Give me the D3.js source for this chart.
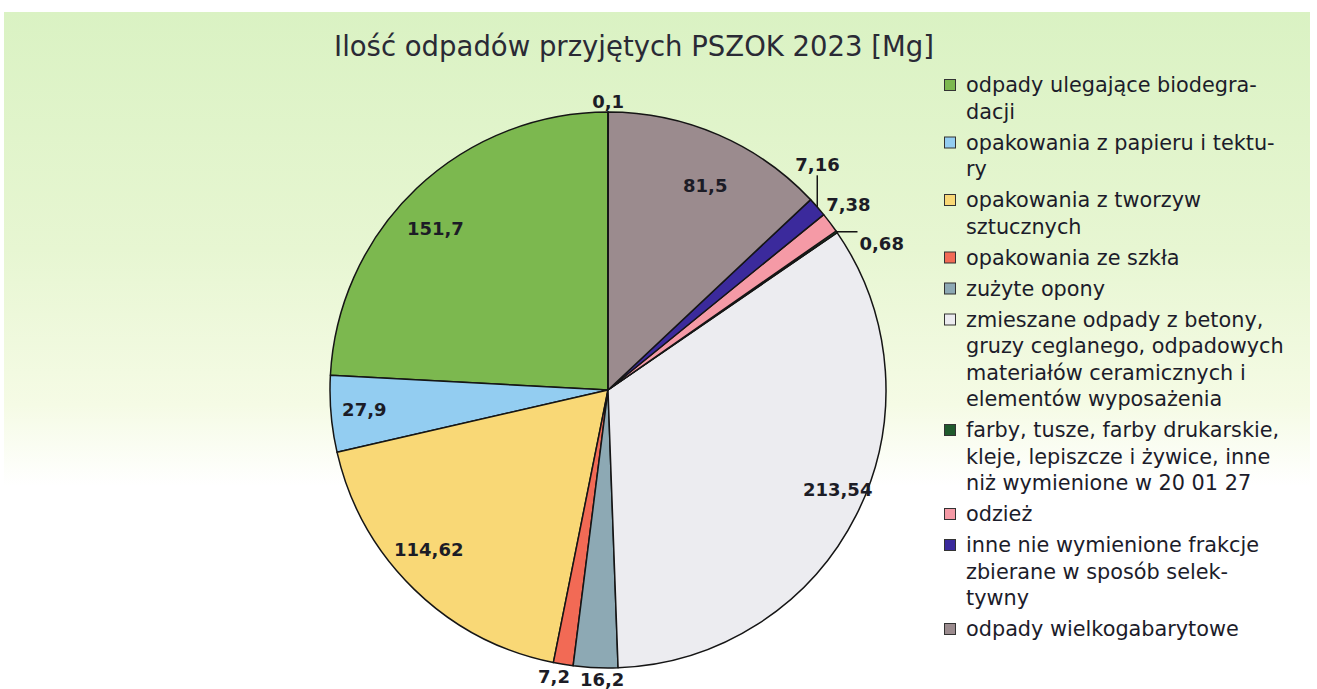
<!DOCTYPE html>
<html>
<head>
<meta charset="utf-8">
<script src="https://cdn.jsdelivr.net/npm/d3@7"></script>
<style>
  body { margin: 0; background: #fff; }
  svg text { font-family: "DejaVu Sans", sans-serif; }
</style>
</head>
<body>
<div id="chart"></div>
<script>
// Data (order as in the legend; pie runs counter-clockwise from 12 o'clock)
const categories = [
    "odpady ulegające biodegradacji",
    "opakowania z papieru i tektury",
    "opakowania z tworzyw sztucznych",
    "opakowania ze szkła",
    "zużyte opony",
    "zmieszane odpady z betony, gruzy ceglanego, odpadowych materiałów ceramicznych i elementów wyposażenia",
    "farby, tusze, farby drukarskie, kleje, lepiszcze i żywice, inne niż wymienione w 20 01 27",
    "odzież",
    "inne nie wymienione frakcje zbierane w sposób selektywny",
    "odpady wielkogabarytowe",
    ""
];
const values = [151.7, 27.9, 114.62, 7.2, 16.2, 213.54, 0.68, 7.38, 7.16, 81.5, 0.1];
const colors = ["#7cb84f", "#93cdf1", "#f9d876", "#f26a55", "#8da9b4", "#ececf0",
                "#1f5a2c", "#f59aa6", "#3b2a9c", "#9b8b8e", "#6b6b6b"];
// legend text as broken in the original
const legendLines = [
    ["odpady ulegające biodegra-", "dacji"],
    ["opakowania z papieru i tektu-", "ry"],
    ["opakowania z tworzyw", "sztucznych"],
    ["opakowania ze szkła"],
    ["zużyte opony"],
    ["zmieszane odpady z betony,", "gruzy ceglanego, odpadowych", "materiałów ceramicznych i", "elementów wyposażenia"],
    ["farby, tusze, farby drukarskie,", "kleje, lepiszcze i żywice, inne", "niż wymienione w 20 01 27"],
    ["odzież"],
    ["inne nie wymienione frakcje", "zbierane w sposób selek-", "tywny"],
    ["odpady wielkogabarytowe"]
];
const title = "Ilość odpadów przyjętych PSZOK 2023 [Mg]";

const width = 1317;
const height = 689;
const cx = 608, cy = 390, radius = 278;

const data = values.map((v, i) => ({ name: categories[i], value: v, color: colors[i] }));
const total = d3.sum(values);

const svg = d3.create("svg")
    .attr("width", width)
    .attr("height", height);
document.getElementById("chart").append(svg.node());

// Background panel with green fade
const grad = svg.append("defs").append("linearGradient")
    .attr("id", "bg").attr("x1", 0).attr("y1", 0).attr("x2", 0).attr("y2", 1);
grad.append("stop").attr("offset", "0%").attr("stop-color", "#daf2c3");
grad.append("stop").attr("offset", "35%").attr("stop-color", "#e7f6d2");
grad.append("stop").attr("offset", "58%").attr("stop-color", "#f5fbe5");
grad.append("stop").attr("offset", "70%").attr("stop-color", "#ffffff");
svg.append("rect")
    .attr("x", 4).attr("y", 12)
    .attr("width", 1306).attr("height", height - 12)
    .attr("fill", "url(#bg)");

// Title
svg.append("text")
    .attr("x", 634)
    .attr("y", 46)
    .attr("text-anchor", "middle")
    .attr("dominant-baseline", "central")
    .attr("font-size", 27.5)
    .attr("fill", "#2a2a35")
    .text(title);

// Pie
const pie = d3.pie()
    .sort(null)
    .value(d => d.value)
    .startAngle(0)
    .endAngle(-2 * Math.PI);
const arc = d3.arc().innerRadius(0).outerRadius(radius);
const arcs = pie(data);

const g = svg.append("g").attr("transform", `translate(${cx},${cy})`);
g.selectAll("path")
    .data(arcs)
    .join("path")
    .attr("d", arc)
    .attr("fill", d => d.data.color)
    .attr("stroke", "#151515")
    .attr("stroke-width", 1.5)
    .attr("stroke-linejoin", "round");

// Value labels
const fmt = v => String(v).replace(".", ",");
const toDeg = a => ((a * 180 / Math.PI) % 360 + 360) % 360;

const labels = arcs.map(d => {
    const mid = toDeg((d.startAngle + d.endAngle) / 2);
    return { d, mid, angle: mid, outside: d.value / total < 0.035 };
});

const labelSel = g.selectAll("text.val")
    .data(labels)
    .join("text")
    .attr("class", "val")
    .attr("text-anchor", "middle")
    .attr("dominant-baseline", "central")
    .attr("font-size", 18)
    .attr("font-weight", "bold")
    .attr("fill", "#1c1c26")
    .text(l => fmt(l.d.value));
labelSel.each(function (l) { l.w = this.getComputedTextLength(); l.h = 16; });

// spread crowded outside labels along the rim
const minGap = 9.5;
const outside = labels.filter(l => l.outside).sort((a, b) => a.mid - b.mid);
let clusters = [];
outside.forEach(l => {
    const last = clusters[clusters.length - 1];
    if (last && l.mid - last[last.length - 1].mid < minGap) last.push(l);
    else clusters.push([l]);
});
clusters.forEach(c => {
    const mean = d3.mean(c, l => l.mid);
    c.forEach((l, i) => { l.angle = mean + (i - (c.length - 1) / 2) * minGap; });
});

labels.forEach(l => {
    const a = l.angle * Math.PI / 180;
    const s = Math.sin(a), c = Math.cos(a);
    if (l.outside) {
        l.moved = Math.abs(l.angle - l.mid) > 4;
        const dist = radius + 3 + Math.abs(s) * l.w / 2 + Math.abs(c) * l.h / 2 + (l.moved ? 6 : 0);
        l.x = dist * s;
        l.y = -dist * c;
    } else {
        const dist = radius * 0.8;
        l.x = dist * s + s * l.w / 2;
        l.y = -dist * c;
    }
});
labelSel.attr("x", l => l.x).attr("y", l => l.y);

// leader lines for displaced labels
labels.filter(l => l.outside && l.moved).forEach(l => {
    const m = l.mid * Math.PI / 180;
    const ex = radius * Math.sin(m), ey = -radius * Math.cos(m);
    const pts = l.angle < l.mid
        ? [[ex, ey], [ex, l.y + l.h / 2 + 3]]
        : [[ex, ey], [l.x - l.w / 2 - 2, ey]];
    g.append("path")
        .attr("d", d3.line()(pts))
        .attr("fill", "none")
        .attr("stroke", "#151515")
        .attr("stroke-width", 1.5);
});

// Legend
const legend = svg.append("g").attr("transform", "translate(944,0)");
const lineH = 26.5, itemGap = 4.5;
let yPos = 85;
legendLines.forEach((lines, i) => {
    const item = legend.append("g");
    item.append("rect")
        .attr("x", 0.5)
        .attr("y", yPos - 5.5)
        .attr("width", 11)
        .attr("height", 11)
        .attr("fill", colors[i])
        .attr("stroke", "#333")
        .attr("stroke-width", 1);
    lines.forEach((t, j) => {
        item.append("text")
            .attr("x", 22)
            .attr("y", yPos + j * lineH)
            .attr("dominant-baseline", "central")
            .attr("font-size", 20.8)
            .attr("fill", "#1c1c2a")
            .text(t);
    });
    yPos += lines.length * lineH + itemGap;
});
</script>
</body>
</html>
